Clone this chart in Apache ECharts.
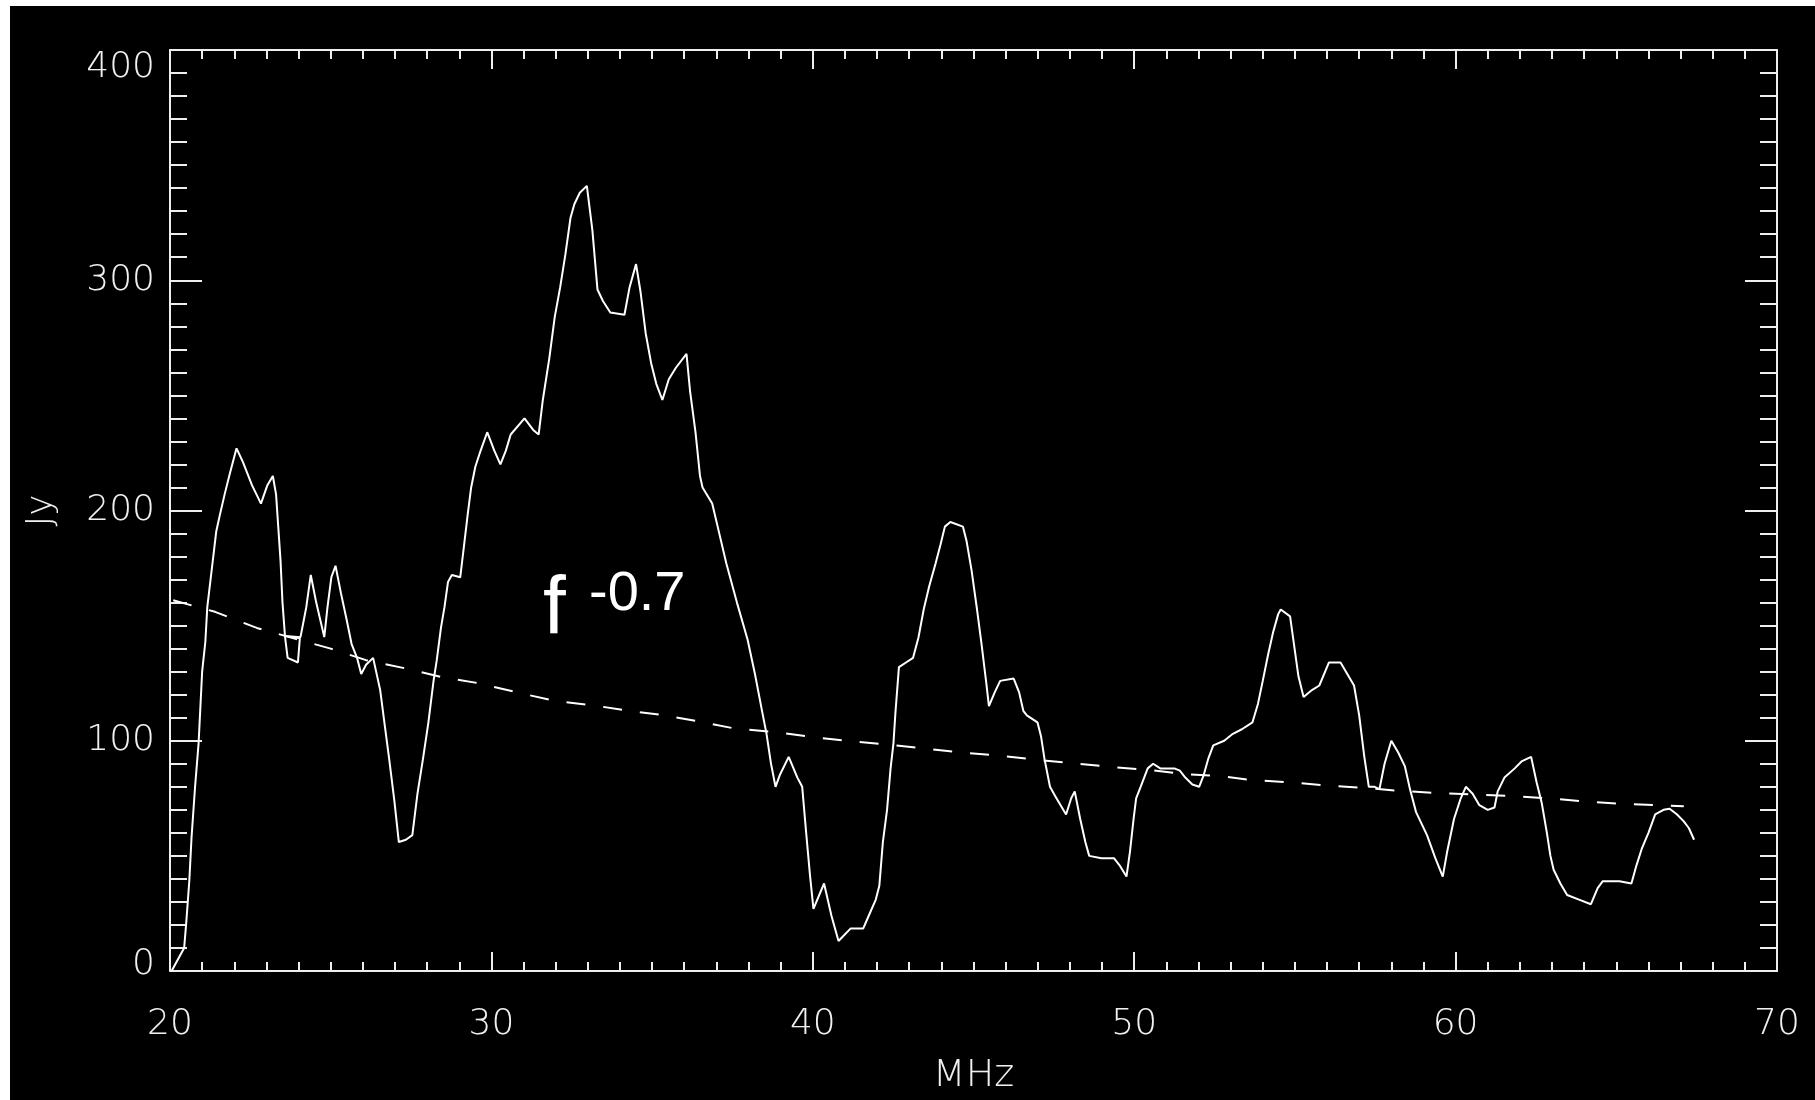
<!DOCTYPE html>
<html>
<head>
<meta charset="utf-8">
<script src="https://cdn.jsdelivr.net/npm/echarts@6/dist/echarts.min.js"></script>
<style>
  html, body { margin: 0; padding: 0; background: #ffffff; width: 1815px; height: 1100px; overflow: hidden; }
  #chart { position: absolute; left: 10px; top: 6px; width: 1805px; height: 1094px; background: #000000; }
</style>
</head>
<body>
<div id="chart"></div>
<script>
// ---- Data ----
const xTickLabels = ['20', '30', '40', '50', '60', '70'];
const yTickLabels = ['0', '100', '200', '300', '400'];
const xAxisTitle = 'MHz';
const yAxisTitle = 'Jy';
const annotationBase = 'f';
const annotationExp = '-0.7';

// Measured spectrum (solid line): frequency in MHz and flux in Jy
const spectrumMHz = [
  20.05, 20.44, 20.5, 20.6, 20.67, 20.78, 20.89, 21.0, 21.1, 21.16, 21.27, 21.44, 21.55, 21.7, 21.86, 22.07,
  22.27, 22.55, 22.83, 23.03, 23.2, 23.3, 23.44, 23.5, 23.58, 23.66, 23.98, 24.04, 23.6, 24.06, 24.24, 24.38,
  24.55, 24.8, 24.9, 25.02, 25.15, 25.32, 25.49, 25.65, 25.82, 25.95, 26.1, 26.32, 26.54, 26.67, 26.82, 26.98,
  27.12, 27.34, 27.54, 27.7, 27.87, 28.04, 28.2, 28.3, 28.43, 28.54, 28.65, 28.77, 29.03, 29.15, 29.26, 29.37,
  29.5, 29.64, 29.87, 30.09, 30.28, 30.45, 30.6, 31.03, 31.3, 31.47, 31.6, 31.8, 31.97, 32.14, 32.3, 32.46,
  32.58, 32.75, 32.97, 33.14, 33.3, 33.47, 33.7, 34.14, 34.3, 34.5, 34.64, 34.8, 34.97, 35.13, 35.32, 35.52,
  35.74, 36.07, 36.18, 36.35, 36.49, 36.57, 36.87, 37.04, 37.31, 37.64, 37.97, 38.2, 38.42, 38.56, 38.7, 38.84,
  38.97, 39.25, 39.52, 39.67, 39.8, 39.91, 40.02, 40.35, 40.58, 40.8, 41.18, 41.57, 41.74, 41.96, 42.07, 42.18,
  42.31, 42.42, 42.51, 42.57, 42.68, 42.9, 43.12, 43.29, 43.45, 43.62, 43.82, 43.97, 44.11, 44.28, 44.67, 44.78,
  44.94, 45.11, 45.25, 45.39, 45.48, 45.66, 45.83, 46.25, 46.42, 46.55, 46.66, 46.99, 47.1, 47.21, 47.38, 47.54,
  47.71, 47.88, 48.04, 48.15, 48.32, 48.48, 48.6, 48.98, 49.37, 49.54, 49.76, 49.87, 49.98, 50.06, 50.2, 50.42,
  50.59, 50.81, 51.25, 51.42, 51.59, 51.81, 52.02, 52.16, 52.3, 52.46, 52.8, 53.07, 53.35, 53.68, 53.85, 54.0,
  54.16, 54.32, 54.48, 54.56, 54.85, 54.95, 55.11, 55.27, 55.53, 55.76, 56.06, 56.42, 56.63, 56.84, 57.0, 57.16,
  57.3, 57.48, 57.63, 57.79, 58.0, 58.21, 58.42, 58.58, 58.77, 59.11, 59.37, 59.6, 59.74, 59.95, 60.16, 60.32,
  60.53, 60.74, 61.0, 61.21, 61.31, 61.52, 61.84, 62.05, 62.35, 62.52, 62.68, 62.84, 62.95, 63.05, 63.26, 63.47,
  63.84, 64.21, 64.42, 64.58, 65.1, 65.47, 65.63, 65.79, 66.0, 66.21, 66.47, 66.66, 66.89, 67.1, 67.26, 67.42
];
const spectrumJy = [
  0, 10, 20, 39, 58, 80, 99, 130, 143, 158, 171, 191, 198, 207, 216, 227,
  221, 211, 203, 211, 215, 207, 178, 160, 145, 136, 134, 144.5, 145.5, 145, 158, 172,
  160, 145, 158, 171, 176, 164, 153, 142, 136, 129, 133, 136, 122, 108, 92, 74,
  56, 57, 59, 77, 92, 108, 126, 135, 149, 158, 169, 172, 171, 185, 198, 210,
  219, 225, 234, 226, 220, 226, 233, 240, 235, 233, 248, 266, 284, 297, 311, 327,
  333, 338, 341, 322, 296, 291, 286, 285, 297, 307, 295, 277, 264, 255, 248, 257,
  262, 268, 252, 234, 215, 210, 203, 193, 177, 160, 144, 129, 113, 103, 90, 80,
  85, 93, 84, 80, 59, 42, 27, 38, 24, 13, 18.5, 18.5, 24, 31, 37, 56,
  70, 88, 99, 112, 132, 134, 136, 145, 157, 167, 177, 185, 193, 195, 193, 187,
  174, 157, 142, 126, 115, 121, 126, 127, 121, 113, 111, 108, 102, 92, 80, 76,
  72, 68, 75, 78, 66, 56, 50, 49, 49, 46, 41, 52, 66, 75, 80, 88,
  90, 88, 88, 87, 84, 81, 80, 85, 92, 98, 100, 103, 105, 108, 116, 126,
  137, 147, 155, 157, 154, 144, 128, 119, 122, 124, 134, 134, 129, 124, 111, 93,
  80, 80, 79, 90, 100, 95, 89, 79, 69, 59, 49, 41, 52, 66, 75, 80,
  77, 72, 70, 71, 78, 84, 88, 91, 93, 82, 73, 60, 50, 44, 38, 33,
  31, 29, 36, 39, 39, 38, 46, 53, 60, 68, 70, 70.5, 68, 65, 62, 57
];

// Power-law reference curve (dashed line)
const modelMHz = [
  20.1, 21.4, 22.7, 25.0, 26.1, 27.3, 28.5, 29.6, 30.8, 31.9, 33.1, 34.3, 35.4, 36.6, 37.5, 38.9,
  40.0, 41.2, 42.4, 43.5, 44.7, 45.9, 47.0, 48.2, 49.3, 50.5, 51.6, 52.8, 53.6, 54.8, 55.9, 57.1,
  58.3, 59.4, 60.6, 61.7, 62.9, 64.0, 65.2, 66.4, 67.1
];
const modelJy = [
  161, 156, 149, 140, 135, 131.5, 127.5, 125, 121, 117.5, 115.5, 113, 111, 108, 105.5, 103.7,
  101.6, 99.8, 98.3, 96.6, 94.8, 93.4, 91.7, 90.1, 88.6, 87.3, 85.5, 84.5, 83, 82, 80.7, 79.6,
  78.2, 77.3, 76.6, 76, 75, 73.6, 72.6, 72, 71.5
];

// ---- Chart ----
const spectrumData = spectrumMHz.map((f, i) => [f, spectrumJy[i]]);
const modelData = modelMHz.map((f, i) => [f, modelJy[i]]);

const axisColor = '#eeeeee';
const labelFont = { color: '#f0f0f0', fontFamily: 'DejaVu Sans', fontWeight: 200, fontSize: 36 };

function xAx(position, showLabels) {
  return {
    type: 'value', position: position, min: 20, max: 70, interval: 10,
    name: showLabels ? xAxisTitle : '',
    nameLocation: 'middle', nameGap: 86,
    nameTextStyle: { color: '#f0f0f0', fontFamily: 'DejaVu Sans', fontWeight: 200, fontSize: 38 },
    axisLine: { show: true, onZero: false, lineStyle: { color: axisColor, width: 2 } },
    axisTick: { show: true, inside: true, length: 19, lineStyle: { color: axisColor, width: 2 } },
    minorTick: { show: true, splitNumber: 10, length: 9, lineStyle: { color: axisColor, width: 2 } },
    splitLine: { show: false },
    axisLabel: Object.assign({ show: showLabels, margin: 36,
      formatter: function (v) { const i = xTickLabels.indexOf(String(v)); return i >= 0 ? xTickLabels[i] : ''; } }, labelFont)
  };
}
function yAx(position, showLabels) {
  return {
    type: 'value', position: position, min: 0, max: 400, interval: 100,
    name: showLabels ? yAxisTitle : '',
    nameLocation: 'middle', nameGap: 110, nameRotate: 90,
    nameTextStyle: { color: '#f0f0f0', fontFamily: 'DejaVu Sans', fontWeight: 200, fontSize: 36 },
    axisLine: { show: true, onZero: false, lineStyle: { color: axisColor, width: 2 } },
    axisTick: { show: true, inside: true, length: 32, lineStyle: { color: axisColor, width: 2 } },
    minorTick: { show: true, splitNumber: 10, length: 17, lineStyle: { color: axisColor, width: 2 } },
    splitLine: { show: false },
    axisLabel: Object.assign({ show: showLabels, margin: 15,
      verticalAlignMaxLabel: 'top',
      formatter: function (v) {
        const i = yTickLabels.indexOf(String(v));
        if (i < 0) return '';
        return i === 0 ? '{low|' + yTickLabels[i] + '}' : yTickLabels[i];
      },
      rich: { low: { color: '#f0f0f0', fontFamily: 'DejaVu Sans', fontWeight: 200, fontSize: 36, padding: [0, 0, 12, 0] } }
    }, labelFont)
  };
}

const chart = echarts.init(document.getElementById('chart'), null, { renderer: 'canvas' });
chart.setOption({
  backgroundColor: '#000000',
  animation: false,
  grid: { left: 160, right: 38, top: 44, bottom: 124, containLabel: false },
  xAxis: [xAx('bottom', true), xAx('top', false)],
  yAxis: [yAx('left', true), yAx('right', false)],
  series: [
    {
      type: 'line', xAxisIndex: 0, yAxisIndex: 0, data: spectrumData,
      showSymbol: false, symbol: 'none', smooth: false,
      lineStyle: { color: '#ffffff', width: 2 }
    },
    {
      type: 'line', xAxisIndex: 0, yAxisIndex: 0, data: modelData,
      showSymbol: false, symbol: 'none', smooth: false,
      lineStyle: { color: '#ffffff', width: 2, type: [19, 18] }
    }
  ],
  graphic: [
    { type: 'text', left: 533, top: 563, style: { text: annotationBase, fill: '#ffffff', font: '82px "Liberation Sans", Arial, sans-serif' } },
    { type: 'text', left: 579, top: 561, style: { text: annotationExp, fill: '#ffffff', font: '56px "Liberation Sans", Arial, sans-serif' } }
  ]
});
</script>
</body>
</html>
